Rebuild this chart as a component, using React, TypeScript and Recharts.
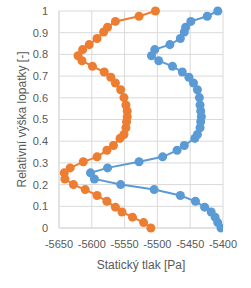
import { ScatterChart, Scatter, XAxis, YAxis, ZAxis, CartesianGrid, Label } from "recharts";

// relative blade height (shared by both series)
const heights = [
  1.0, 0.976, 0.952, 0.925, 0.903, 0.873, 0.845, 0.822, 0.794, 0.771, 0.745, 0.719, 0.695,
  0.668, 0.637, 0.601, 0.567, 0.539, 0.513, 0.49, 0.462, 0.431, 0.413, 0.38, 0.358, 0.328,
  0.305, 0.277, 0.254, 0.226, 0.2, 0.177, 0.15, 0.123, 0.096, 0.074, 0.05, 0.025, 0,
];

// static pressure [Pa]
const bluePressure = [
  -5408, -5424, -5449, -5457, -5459, -5465, -5481, -5504, -5509, -5498, -5477, -5462, -5452,
  -5445, -5439, -5436, -5435, -5434, -5433, -5434, -5435, -5439, -5443, -5459, -5470, -5492,
  -5528, -5576, -5602, -5596, -5556, -5505, -5465, -5442, -5428, -5418, -5412, -5408, -5403,
];
const orangePressure = [
  -5503, -5528, -5564, -5576, -5582, -5592, -5604, -5614, -5621, -5615, -5599, -5581, -5571,
  -5564, -5556, -5551, -5548, -5546, -5546, -5547, -5548, -5551, -5557, -5567, -5577, -5592,
  -5613, -5633, -5642, -5641, -5628, -5610, -5592, -5577, -5564, -5554, -5538, -5521, -5510,
];

const xTicks = [-5650, -5600, -5550, -5500, -5450, -5400];
const yTicks = [0, 0.1, 0.2, 0.3, 0.4, 0.5, 0.6, 0.7, 0.8, 0.9, 1];

const blueData = heights.map((h, i) => ({ p: bluePressure[i], h }));
const orangeData = heights.map((h, i) => ({ p: orangePressure[i], h }));

const FONT = "'Liberation Sans', Arial, sans-serif";
const GREY = "#595959";

function YTitle(props: any) {
  const { viewBox } = props;
  const cx = viewBox.x + 22;
  const cy = viewBox.y + viewBox.height / 2;
  return (
    <text x={cx} y={cy} transform={`rotate(-90 ${cx} ${cy})`} textAnchor="middle"
      dominantBaseline="central" fontSize={12} fill={GREY} fontFamily={FONT}>
      Relativní výška lopatky [-]
    </text>
  );
}

function XTitle(props: any) {
  const { viewBox } = props;
  const cx = viewBox.x + viewBox.width / 2;
  const cy = viewBox.y + 36.5;
  return (
    <text x={cx} y={cy} textAnchor="middle" dominantBaseline="central"
      fontSize={12} fill={GREY} fontFamily={FONT}>
      Statický tlak [Pa]
    </text>
  );
}

export default function App() {
  return (
    <div style={{ position: "absolute", left: 0, top: 0, width: 251, height: 288, background: "#fff", fontFamily: FONT }}>
      <ScatterChart width={251} height={288} margin={{ top: 11, right: 28, left: 0, bottom: 20 }}>
        <CartesianGrid stroke="#d9d9d9" />
        <XAxis type="number" dataKey="p" domain={[-5650, -5400]} ticks={xTicks} height={40}
          axisLine={{ stroke: "#d9d9d9" }} tickLine={false} tickSize={6} tickMargin={6}
          tick={{ fontSize: 11, fill: GREY, fontFamily: FONT }} interval={0} allowDataOverflow>
          <Label content={<XTitle />} />
        </XAxis>
        <YAxis type="number" dataKey="h" domain={[0, 1]} ticks={yTicks} width={59}
          axisLine={{ stroke: "#d9d9d9" }} tickLine={false} tickSize={6} tickMargin={5}
          tick={{ fontSize: 11, fill: GREY, fontFamily: FONT }} interval={0}>
          <Label content={<YTitle />} />
        </YAxis>
        <ZAxis range={[40, 40]} />
        <Scatter data={blueData} fill="#5B9BD5" line={{ stroke: "#5B9BD5", strokeWidth: 2 }}
          lineType="joint" isAnimationActive={false} />
        <Scatter data={orangeData} fill="#ED7D31" line={{ stroke: "#ED7D31", strokeWidth: 2 }}
          lineType="joint" isAnimationActive={false} />
      </ScatterChart>
    </div>
  );
}
